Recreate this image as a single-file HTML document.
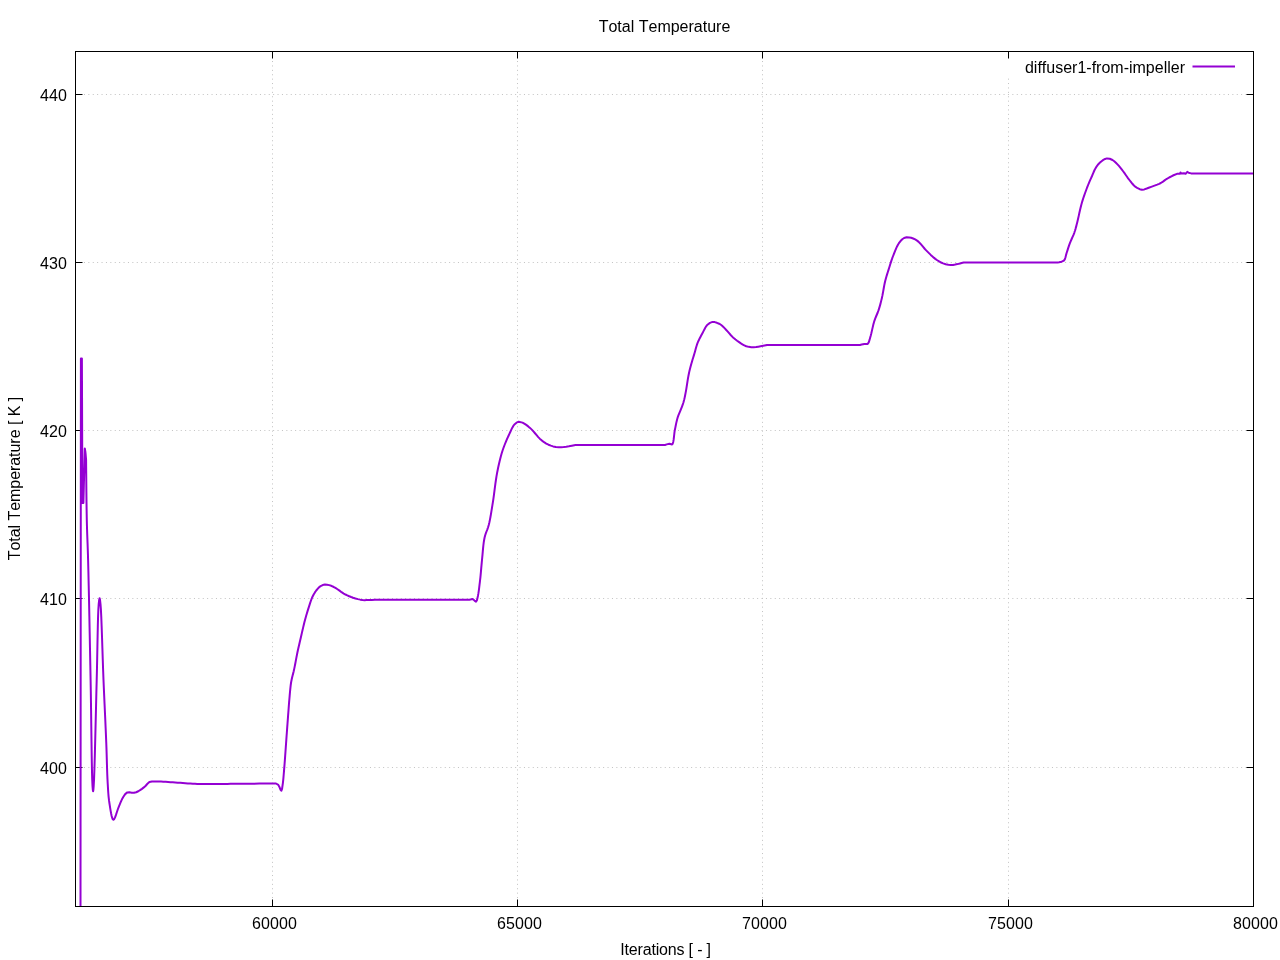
<!DOCTYPE html>
<html><head><meta charset="utf-8"><title>Total Temperature</title>
<style>html,body{margin:0;padding:0;background:#fff;width:1280px;height:960px;overflow:hidden;position:relative}</style>
</head><body>
<svg width="1280" height="960" viewBox="0 0 1280 960" style="position:absolute;left:0;top:0;font-kerning:none;will-change:transform"><rect width="1280" height="960" fill="#fff"/><path d="M272.5,906.5 V51.5 M517.5,906.5 V51.5 M762.5,906.5 V51.5 M1008.5,906.5 V78.5 M75.5,94.5 H1253.5 M75.5,262.5 H1253.5 M75.5,430.5 H1253.5 M75.5,598.5 H1253.5 M75.5,767.5 H1253.5" stroke="#c2c2c2" stroke-width="1" stroke-dasharray="1 3.4" stroke-dashoffset="0.35" fill="none"/><g fill="#000"><rect x="272" y="899.5" width="1" height="7.5"/><rect x="272" y="51" width="1" height="7.5"/><rect x="517" y="899.5" width="1" height="7.5"/><rect x="517" y="51" width="1" height="7.5"/><rect x="762" y="899.5" width="1" height="7.5"/><rect x="762" y="51" width="1" height="7.5"/><rect x="1008" y="899.5" width="1" height="7.5"/><rect x="1008" y="51" width="1" height="7.5"/><rect x="75" y="94" width="7.5" height="1"/><rect x="1246.5" y="94" width="7.5" height="1"/><rect x="75" y="262" width="7.5" height="1"/><rect x="1246.5" y="262" width="7.5" height="1"/><rect x="75" y="430" width="7.5" height="1"/><rect x="1246.5" y="430" width="7.5" height="1"/><rect x="75" y="598" width="7.5" height="1"/><rect x="1246.5" y="598" width="7.5" height="1"/><rect x="75" y="767" width="7.5" height="1"/><rect x="1246.5" y="767" width="7.5" height="1"/></g><defs><clipPath id="c"><rect x="75.5" y="51.5" width="1178.0" height="855.0"/></clipPath></defs><path d="M80.50,912.00 L80.52,888.21 L80.56,825.51 L80.63,736.87 L80.70,635.25 L80.77,533.63 L80.84,444.99 L80.88,382.29 L80.90,358.50 L81.90,358.50 L81.92,364.71 L81.98,381.08 L82.06,404.22 L82.15,430.75 L82.24,457.28 L82.32,480.42 L82.38,496.79 L82.40,503.00 L83.40,503.00 L83.46,500.66 L83.62,494.48 L83.84,485.76 L84.10,475.75 L84.36,465.74 L84.58,457.02 L84.74,450.84 L84.80,448.50 L85.40,452.00 L85.62,454.14 L85.85,456.79 L86.03,459.05 L86.10,460.00 L86.11,461.84 L86.15,466.85 L86.22,474.25 L86.30,483.26 L86.40,493.12 L86.52,503.04 L86.66,512.26 L86.80,520.00 L86.93,525.24 L87.08,530.07 L87.23,534.65 L87.40,539.17 L87.58,543.78 L87.75,548.68 L87.93,554.03 L88.10,560.00 L88.40,571.97 L88.71,585.65 L89.04,600.62 L89.36,616.44 L89.68,632.72 L90.00,649.02 L90.31,664.92 L90.60,680.00 L90.85,694.49 L91.08,710.12 L91.29,726.16 L91.50,741.84 L91.71,756.42 L91.94,769.14 L92.20,779.25 L92.50,786.00 L92.80,789.70 L93.10,791.25 L93.40,789.70 L93.70,786.00 L94.06,779.08 L94.43,768.57 L94.82,755.35 L95.21,740.33 L95.60,724.39 L95.99,708.42 L96.35,693.33 L96.70,680.00 L96.96,669.30 L97.19,658.08 L97.40,646.77 L97.61,635.79 L97.83,625.59 L98.07,616.61 L98.36,609.26 L98.70,604.00 L99.14,600.03 L99.60,598.30 L100.05,600.03 L100.50,604.00 L100.89,609.40 L101.28,617.08 L101.65,626.47 L102.02,637.04 L102.39,648.23 L102.76,659.49 L103.13,670.26 L103.50,680.00 L103.85,688.20 L104.21,696.36 L104.58,704.47 L104.94,712.46 L105.30,720.30 L105.64,727.95 L105.96,735.36 L106.25,742.50 L106.46,748.13 L106.63,753.68 L106.79,759.13 L106.94,764.42 L107.10,769.53 L107.27,774.43 L107.47,779.06 L107.70,783.40 L107.87,786.20 L108.02,788.84 L108.18,791.35 L108.35,793.76 L108.54,796.09 L108.78,798.39 L109.06,800.68 L109.40,803.00 L109.77,805.40 L110.19,808.08 L110.64,810.85 L111.13,813.54 L111.65,815.97 L112.20,817.94 L112.79,819.28 L113.40,819.80 L114.20,819.17 L115.07,817.41 L115.98,814.91 L116.92,812.06 L117.85,809.26 L118.75,806.90 L119.67,804.70 L120.58,802.49 L121.48,800.36 L122.41,798.41 L123.40,796.70 L125.18,794.11 L127.30,792.40 L129.40,792.24 L131.79,792.66 L134.00,792.80 L136.17,792.25 L138.30,791.25 L140.06,790.19 L141.97,788.84 L143.85,787.38 L145.50,786.00 L147.44,783.78 L149.40,782.00 L151.99,781.43 L155.20,781.40 L156.94,781.39 L158.90,781.44 L161.05,781.54 L163.33,781.67 L165.70,781.82 L168.10,781.99 L170.48,782.15 L172.80,782.30 L175.25,782.46 L177.74,782.64 L180.26,782.84 L182.80,783.03 L185.34,783.23 L187.86,783.41 L190.35,783.57 L192.80,783.70 L195.02,783.80 L197.20,783.88 L199.33,783.94 L201.46,783.99 L203.60,784.03 L205.77,784.06 L208.00,784.09 L210.30,784.10 L213.03,784.10 L215.77,784.08 L218.56,784.04 L221.41,784.00 L224.34,783.94 L227.36,783.89 L230.51,783.84 L233.80,783.80 L239.06,783.75 L245.47,783.70 L252.44,783.65 L259.41,783.61 L265.82,783.56 L271.10,783.53 L274.68,783.51 L276.00,783.50 L278.30,784.90 L279.42,786.99 L280.45,789.58 L281.30,790.80 L282.06,788.80 L282.60,785.00 L282.85,783.29 L283.07,781.38 L283.29,779.30 L283.49,777.08 L283.69,774.74 L283.89,772.31 L284.09,769.82 L284.30,767.30 L284.59,763.76 L284.88,759.94 L285.17,755.93 L285.47,751.80 L285.76,747.64 L286.05,743.53 L286.33,739.56 L286.60,735.80 L286.83,732.72 L287.05,729.67 L287.27,726.66 L287.49,723.71 L287.70,720.85 L287.91,718.08 L288.11,715.43 L288.30,712.90 L288.48,710.55 L288.64,708.38 L288.79,706.31 L288.95,704.27 L289.11,702.19 L289.30,700.00 L289.47,698.01 L289.66,695.89 L289.85,693.70 L290.04,691.51 L290.25,689.36 L290.46,687.32 L290.68,685.43 L290.90,683.75 L291.27,681.44 L291.67,679.47 L292.10,677.50 L292.61,675.44 L293.16,673.38 L293.70,671.25 L294.22,668.86 L294.73,666.39 L295.25,663.75 L295.65,661.66 L296.06,659.44 L296.49,657.15 L296.93,654.82 L297.40,652.50 L297.83,650.49 L298.28,648.49 L298.74,646.47 L299.22,644.40 L299.72,642.26 L300.25,640.00 L300.78,637.69 L301.35,635.22 L301.94,632.63 L302.55,630.00 L303.17,627.36 L303.79,624.78 L304.40,622.31 L305.00,620.00 L305.62,617.71 L306.24,615.53 L306.86,613.44 L307.48,611.40 L308.11,609.40 L308.75,607.40 L309.47,605.16 L310.18,602.92 L310.91,600.73 L311.68,598.66 L312.50,596.75 L313.66,594.46 L314.90,592.39 L316.25,590.50 L317.61,588.83 L319.06,587.31 L320.60,586.10 L322.71,585.07 L325.00,584.60 L327.01,584.69 L329.15,585.13 L331.25,585.80 L333.37,586.76 L335.45,587.96 L337.50,589.25 L339.54,590.67 L341.55,592.18 L343.75,593.60 L345.47,594.51 L347.31,595.40 L349.23,596.24 L351.17,597.01 L353.10,597.70 L355.47,598.45 L357.89,599.11 L360.27,599.64 L362.50,600.00 L364.65,600.13 L366.66,600.08 L368.75,600.00 L371.81,599.90 L374.95,599.77 L376.40,599.70 L380.40,599.70 L390.93,599.70 L405.83,599.70 L422.90,599.70 L439.97,599.70 L454.87,599.70 L465.40,599.70 L469.40,599.70 L472.70,599.10 L474.48,600.59 L476.00,601.70 L476.93,600.19 L477.60,597.40 L477.96,595.80 L478.30,593.92 L478.63,591.80 L478.95,589.52 L479.25,587.14 L479.54,584.72 L479.83,582.32 L480.10,580.00 L480.37,577.58 L480.62,575.13 L480.85,572.66 L481.07,570.16 L481.28,567.65 L481.51,565.12 L481.74,562.57 L482.00,560.00 L482.27,557.20 L482.53,554.30 L482.79,551.35 L483.06,548.40 L483.36,545.49 L483.71,542.67 L484.12,539.99 L484.60,537.50 L485.19,535.23 L485.88,533.19 L486.61,531.25 L487.36,529.32 L488.09,527.27 L488.75,525.00 L489.35,522.50 L489.91,519.85 L490.44,517.06 L490.95,514.18 L491.44,511.21 L491.93,508.19 L492.41,505.15 L492.90,502.10 L493.43,498.59 L493.94,494.95 L494.42,491.23 L494.90,487.46 L495.40,483.70 L495.92,479.99 L496.48,476.37 L497.10,472.90 L497.68,469.95 L498.28,467.05 L498.90,464.20 L499.55,461.40 L500.23,458.66 L500.94,455.97 L501.70,453.33 L502.50,450.75 L503.27,448.48 L504.10,446.22 L504.96,444.00 L505.85,441.83 L506.76,439.72 L507.66,437.68 L508.54,435.74 L509.40,433.90 L510.39,431.73 L511.35,429.62 L512.31,427.66 L513.31,425.93 L514.40,424.50 L516.53,422.65 L518.75,421.70 L522.50,422.60 L524.28,423.57 L526.25,424.91 L528.22,426.41 L530.00,427.90 L531.79,429.63 L533.40,431.43 L535.00,433.25 L536.63,435.15 L538.25,437.08 L540.00,438.90 L541.97,440.61 L544.06,442.21 L546.25,443.60 L548.49,444.73 L550.82,445.67 L553.10,446.40 L555.89,447.02 L558.75,447.30 L561.15,447.26 L563.66,447.03 L566.25,446.70 L568.88,446.27 L571.86,445.71 L574.29,445.21 L575.30,445.00 L579.16,445.00 L589.32,445.00 L603.68,445.00 L620.15,445.00 L636.62,445.00 L650.98,445.00 L661.14,445.00 L665.00,445.00 L666.72,444.35 L669.40,443.70 L672.10,444.50 L672.75,443.59 L673.24,441.92 L673.63,439.70 L673.94,437.15 L674.23,434.49 L674.53,431.93 L674.90,429.70 L675.33,427.59 L675.75,425.48 L676.18,423.41 L676.62,421.40 L677.09,419.49 L677.60,417.70 L678.49,415.20 L679.44,412.93 L680.40,410.60 L681.19,408.59 L682.01,406.54 L682.80,404.44 L683.50,402.30 L684.10,400.08 L684.61,397.85 L685.09,395.50 L685.60,392.90 L685.98,390.83 L686.36,388.55 L686.75,386.12 L687.14,383.61 L687.53,381.09 L687.93,378.64 L688.34,376.32 L688.75,374.20 L689.25,371.91 L689.75,369.79 L690.26,367.77 L690.79,365.79 L691.35,363.75 L691.95,361.66 L692.57,359.56 L693.22,357.48 L693.86,355.39 L694.50,353.30 L695.10,351.21 L695.66,349.10 L696.24,347.00 L696.87,344.92 L697.60,342.90 L698.43,340.96 L699.33,339.06 L700.30,337.19 L701.30,335.34 L702.30,333.50 L703.28,331.62 L704.26,329.67 L705.27,327.78 L706.34,326.08 L707.50,324.70 L709.94,322.84 L712.50,321.90 L714.72,322.08 L716.90,322.80 L719.10,323.71 L721.25,325.00 L722.92,326.44 L724.56,328.17 L726.25,330.00 L727.76,331.67 L729.31,333.47 L730.89,335.26 L732.50,336.90 L734.01,338.26 L735.54,339.53 L737.11,340.74 L738.75,341.90 L740.54,343.13 L742.40,344.34 L744.31,345.43 L746.25,346.25 L748.73,346.86 L751.26,347.14 L753.75,347.20 L756.07,347.03 L758.35,346.66 L760.60,346.25 L763.23,345.76 L765.82,345.24 L767.00,345.00 L771.00,345.00 L781.53,345.00 L796.43,345.00 L813.50,345.00 L830.57,345.00 L845.47,345.00 L856.00,345.00 L860.00,345.00 L861.69,344.51 L864.40,343.90 L867.70,343.90 L868.73,342.45 L869.46,340.15 L870.20,337.50 L870.70,335.77 L871.21,333.79 L871.71,331.64 L872.22,329.39 L872.74,327.11 L873.27,324.87 L873.83,322.74 L874.40,320.80 L875.19,318.56 L876.04,316.50 L876.89,314.51 L877.73,312.51 L878.50,310.40 L879.13,308.42 L879.73,306.41 L880.30,304.36 L880.84,302.27 L881.37,300.12 L881.90,297.90 L882.34,295.90 L882.74,293.81 L883.14,291.65 L883.52,289.47 L883.91,287.28 L884.31,285.12 L884.74,283.02 L885.20,281.00 L885.80,278.72 L886.43,276.50 L887.08,274.34 L887.75,272.21 L888.43,270.10 L889.10,268.00 L889.72,266.01 L890.33,264.05 L890.94,262.11 L891.58,260.17 L892.26,258.22 L893.00,256.25 L893.74,254.35 L894.51,252.36 L895.32,250.33 L896.17,248.34 L897.05,246.45 L897.96,244.71 L898.90,243.20 L900.53,241.03 L902.26,239.24 L904.10,238.00 L906.60,237.31 L909.30,237.40 L911.17,237.79 L913.15,238.47 L915.15,239.41 L917.10,240.60 L918.66,241.87 L920.18,243.43 L921.68,245.16 L923.17,246.97 L924.67,248.75 L926.20,250.40 L927.70,251.90 L929.21,253.41 L930.73,254.90 L932.25,256.32 L933.78,257.65 L935.30,258.85 L937.24,260.23 L939.17,261.46 L941.11,262.53 L943.10,263.40 L945.69,264.23 L948.33,264.76 L950.90,265.00 L953.11,264.89 L955.26,264.53 L957.40,264.10 L960.00,263.50 L962.58,262.82 L963.75,262.50 L967.79,262.50 L978.45,262.50 L993.51,262.50 L1010.78,262.50 L1028.04,262.50 L1043.10,262.50 L1053.76,262.50 L1057.80,262.50 L1059.06,262.32 L1061.67,261.71 L1063.90,260.60 L1064.88,259.13 L1065.51,257.23 L1066.01,255.11 L1066.60,253.00 L1067.23,251.11 L1067.86,249.14 L1068.50,247.13 L1069.18,245.10 L1069.90,243.10 L1070.74,241.05 L1071.66,238.99 L1072.60,236.94 L1073.50,234.88 L1074.30,232.80 L1074.96,230.81 L1075.54,228.86 L1076.08,226.87 L1076.62,224.78 L1077.20,222.50 L1077.73,220.35 L1078.25,218.04 L1078.79,215.60 L1079.34,213.07 L1079.91,210.51 L1080.50,207.95 L1081.13,205.43 L1081.80,203.00 L1082.51,200.66 L1083.27,198.27 L1084.08,195.89 L1084.91,193.52 L1085.74,191.22 L1086.56,189.01 L1087.35,186.93 L1088.10,185.00 L1089.09,182.57 L1090.03,180.40 L1090.96,178.34 L1091.90,176.25 L1092.79,174.14 L1093.67,172.03 L1094.58,169.99 L1095.60,168.10 L1096.91,166.05 L1098.34,164.18 L1100.00,162.50 L1101.57,161.19 L1103.33,159.93 L1105.15,158.93 L1106.90,158.40 L1109.77,158.76 L1112.50,160.00 L1114.25,161.21 L1115.88,162.72 L1117.50,164.40 L1118.91,165.95 L1120.30,167.64 L1121.70,169.42 L1123.10,171.25 L1124.35,172.94 L1125.59,174.73 L1126.85,176.54 L1128.11,178.32 L1129.40,180.00 L1130.90,181.90 L1132.40,183.77 L1133.96,185.48 L1135.60,186.90 L1137.61,188.22 L1139.71,189.22 L1141.90,189.70 L1144.29,189.41 L1146.76,188.52 L1149.40,187.50 L1151.22,186.87 L1153.18,186.18 L1155.21,185.43 L1157.21,184.65 L1159.11,183.83 L1160.80,183.00 L1163.00,181.62 L1164.92,180.17 L1166.90,178.80 L1169.14,177.50 L1171.43,176.28 L1173.50,175.25 L1177.00,173.80 L1180.10,173.70 L1180.50,172.40 L1180.90,173.60 L1184.00,173.20 L1185.60,173.80 L1187.30,171.90 L1188.60,172.80 L1191.10,173.40 L1193.76,173.40 L1200.77,173.40 L1210.69,173.40 L1222.05,173.40 L1233.41,173.40 L1243.33,173.40 L1250.34,173.40 L1253.00,173.40" stroke="#9400d3" stroke-width="2" fill="none" stroke-linejoin="round" clip-path="url(#c)"/><path d="M75.5,51.5 H1253.5 V906.5 H75.5 Z" stroke="#000" stroke-width="1" fill="none" shape-rendering="crispEdges"/><text x="274.4" y="928.5" letter-spacing="0.1" text-anchor="middle" font-size="16" style='font-family:"Liberation Sans",sans-serif;'>60000</text><text x="519.4" y="928.5" letter-spacing="0.1" text-anchor="middle" font-size="16" style='font-family:"Liberation Sans",sans-serif;'>65000</text><text x="764.4" y="928.5" letter-spacing="0.1" text-anchor="middle" font-size="16" style='font-family:"Liberation Sans",sans-serif;'>70000</text><text x="1010.4" y="928.5" letter-spacing="0.1" text-anchor="middle" font-size="16" style='font-family:"Liberation Sans",sans-serif;'>75000</text><text x="1255.4" y="928.5" letter-spacing="0.1" text-anchor="middle" font-size="16" style='font-family:"Liberation Sans",sans-serif;'>80000</text><text x="67" y="101.0" text-anchor="end" letter-spacing="0.1" font-size="16" style='font-family:"Liberation Sans",sans-serif;'>440</text><text x="67" y="269.0" text-anchor="end" letter-spacing="0.1" font-size="16" style='font-family:"Liberation Sans",sans-serif;'>430</text><text x="67" y="437.0" text-anchor="end" letter-spacing="0.1" font-size="16" style='font-family:"Liberation Sans",sans-serif;'>420</text><text x="67" y="605.0" text-anchor="end" letter-spacing="0.1" font-size="16" style='font-family:"Liberation Sans",sans-serif;'>410</text><text x="67" y="774.0" text-anchor="end" letter-spacing="0.1" font-size="16" style='font-family:"Liberation Sans",sans-serif;'>400</text><text x="664.5" y="32" text-anchor="middle" font-size="16" style='font-family:"Liberation Sans",sans-serif;'>Total Temperature</text><text x="665.6" y="955" text-anchor="middle" letter-spacing="-0.18" font-size="16" style='font-family:"Liberation Sans",sans-serif;'>Iterations [ - ]</text><text transform="translate(20,478.6) rotate(-90)" text-anchor="middle" letter-spacing="-0.05" font-size="16" style='font-family:"Liberation Sans",sans-serif;'>Total Temperature [ K ]</text><text x="1185" y="72.5" text-anchor="end" font-size="16" style='font-family:"Liberation Sans",sans-serif;'>diffuser1-from-impeller</text><path d="M1192.5,66.5 H1235" stroke="#9400d3" stroke-width="2" fill="none"/></svg>
</body></html>
